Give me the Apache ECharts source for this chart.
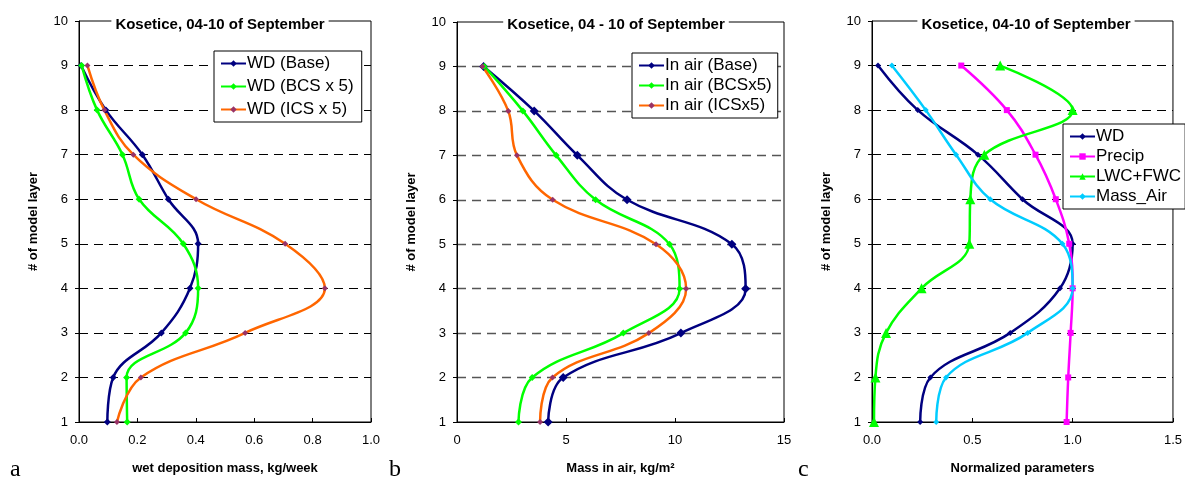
<!DOCTYPE html>
<html>
<head>
<meta charset="utf-8">
<script src="https://cdn.jsdelivr.net/npm/echarts@6/dist/echarts.min.js"></script>
<style>
  html, body { margin: 0; padding: 0; background: #fff; }
  #chart { width: 1185px; height: 480px; }
</style>
</head>
<body>
<div id="chart"></div>
<script>
// model layers, bottom to top
const layers = [1, 2, 3, 4, 5, 6, 7, 8, 9];

// panel a: wet deposition mass, kg/week
const wdBase = [0.097, 0.117, 0.282, 0.380, 0.408, 0.306, 0.217, 0.092, 0.007];
const wdBcs = [0.165, 0.163, 0.365, 0.408, 0.357, 0.206, 0.149, 0.062, 0.009];
const wdIcs = [0.130, 0.212, 0.569, 0.842, 0.706, 0.401, 0.186, 0.087, 0.029];

// panel b: mass in air, kg/m2
const airBase = [4.18, 4.87, 10.27, 13.24, 12.61, 7.80, 5.52, 3.54, 1.22];
const airBcs = [2.82, 3.45, 7.63, 10.21, 9.75, 6.36, 4.55, 3.02, 1.25];
const airIcs = [3.81, 4.38, 8.80, 10.51, 9.13, 4.39, 2.75, 2.35, 1.17];

// panel c: normalized parameters
const normWd = [0.240, 0.291, 0.689, 0.937, 1.000, 0.750, 0.528, 0.228, 0.030];
const normPrecip = [0.970, 0.978, 0.990, 1.000, 0.983, 0.916, 0.815, 0.672, 0.445];
const normLwc = [0.010, 0.017, 0.070, 0.247, 0.485, 0.490, 0.560, 1.000, 0.639];
const normAir = [0.320, 0.369, 0.776, 1.000, 0.949, 0.589, 0.419, 0.268, 0.099];

// axis ranges [min, max, step]
const xRangeA = [0, 1, 0.2];
const xRangeB = [0, 15, 5];
const xRangeC = [0, 1.5, 0.5];
const yRange = [1, 10, 1];

const FONT = 'Liberation Sans, Arial, sans-serif';
const NAVY = '#000080', GREEN = '#00FF00', ORANGE = '#FF6600', PLUM = '#993366';
const MAGENTA = '#FF00FF', CYAN = '#00CCFF';

const pairs = vals => vals.map((v, i) => [v, layers[i]]);

const chart = echarts.init(document.getElementById('chart'));

const grids = [
  {left: 79, top: 21, width: 292, height: 401},
  {left: 457, top: 22, width: 327, height: 400},
  {left: 872, top: 21, width: 302, height: 401}
].map(g => Object.assign(g, {show: true, borderColor: '#000', borderWidth: 1, backgroundColor: 'transparent'}));

const xNames = ['wet deposition mass, kg/week', 'Mass in air, kg/m²', 'Normalized parameters'];
const xRanges = [xRangeA, xRangeB, xRangeC];
const xAxes = xRanges.map((r, i) => ({
  type: 'value', gridIndex: i,
  min: r[0], max: r[1], interval: r[2],
  name: xNames[i], nameLocation: 'middle', nameGap: 40,
  nameTextStyle: {fontFamily: FONT, fontWeight: 'bold', fontSize: 13, color: '#000'},
  axisLine: {lineStyle: {color: '#000', width: 1}},
  axisTick: {show: true, inside: true, length: 4, lineStyle: {color: '#000'}},
  axisLabel: {
    margin: 12, fontFamily: FONT, fontSize: 13, color: '#000',
    formatter: v => i === 1 ? String(v) : v.toFixed(1)
  },
  splitLine: {show: false}
}));

const yAxes = [0, 1, 2].map(i => ({
  type: 'value', gridIndex: i,
  min: yRange[0], max: yRange[1], interval: yRange[2],
  name: '# of model layer', nameLocation: 'middle', nameGap: 39,
  nameTextStyle: {fontFamily: FONT, fontWeight: 'bold', fontSize: 13, color: '#000'},
  axisLine: {show: true, lineStyle: {color: '#000', width: 1}},
  axisTick: {show: true, inside: false, length: 4, lineStyle: {color: '#000'}},
  axisLabel: {margin: 11, fontFamily: FONT, fontSize: 13, color: '#000'},
  splitLine: {
    show: true, showMinLine: false, showMaxLine: false,
    lineStyle: i === 1
      ? {color: '#555', width: 1.4, type: [9, 6]}
      : {color: '#000', width: 1, type: [9, 6]}
  }
}));

function line(name, data, idx, color, markColor, symbol, size) {
  return {
    type: 'line', name: name, data: pairs(data),
    xAxisIndex: idx, yAxisIndex: idx,
    smooth: 0.4, symbol: symbol, symbolSize: size, showSymbol: true,
    lineStyle: {color: color, width: 2.5},
    itemStyle: {color: markColor},
    emphasis: {disabled: true},
    z: 3
  };
}

const series = [
  line('WD (Base)', wdBase, 0, NAVY, NAVY, 'diamond', 7),
  line('WD (BCS x 5)', wdBcs, 0, GREEN, GREEN, 'diamond', 7),
  line('WD (ICS x 5)', wdIcs, 0, ORANGE, PLUM, 'diamond', 6),
  line('In air (Base)', airBase, 1, NAVY, NAVY, 'diamond', 9),
  line('In air (BCSx5)', airBcs, 1, GREEN, GREEN, 'diamond', 7),
  line('In air (ICSx5)', airIcs, 1, ORANGE, PLUM, 'diamond', 6),
  line('WD', normWd, 2, NAVY, NAVY, 'diamond', 6),
  line('Precip', normPrecip, 2, MAGENTA, MAGENTA, 'rect', 6),
  line('LWC+FWC', normLwc, 2, GREEN, GREEN, 'triangle', 10),
  line('Mass_Air', normAir, 2, CYAN, CYAN, 'diamond', 6)
];

function legend(names, left, top, gap, pad) {
  return {
    data: names, orient: 'vertical', left: left, top: top,
    itemWidth: 25, itemHeight: 8, itemGap: gap,
    padding: pad,
    backgroundColor: '#fff', borderColor: '#000', borderWidth: 1,
    textStyle: {fontFamily: FONT, fontSize: 17, color: '#000', padding: [0, 0, 0, -4]},
    selectedMode: false
  };
}

const titleBase = {
  top: 17, textAlign: 'center', padding: [0, 4], backgroundColor: '#fff',
  textStyle: {fontFamily: FONT, fontWeight: 'bold', fontSize: 15, color: '#000'}
};

chart.setOption({
  animation: false,
  backgroundColor: '#fff',
  title: [
    Object.assign({text: 'Kosetice, 04-10 of September', left: 216}, titleBase),
    Object.assign({text: 'Kosetice, 04 - 10 of September', left: 612}, titleBase),
    Object.assign({text: 'Kosetice, 04-10 of September', left: 1022}, titleBase)
  ],
  legend: [
    legend(['WD (Base)', 'WD (BCS x 5)', 'WD (ICS x 5)'], 214, 51, 6, [4, 8, 4, 6]),
    legend(['In air (Base)', 'In air (BCSx5)', 'In air (ICSx5)'], 632, 53, 3, [4, 6, 4, 6]),
    legend(['WD', 'Precip', 'LWC+FWC', 'Mass_Air'], 1063, 124, 3, [4, 4, 4, 6])
  ],
  grid: grids,
  xAxis: xAxes,
  yAxis: yAxes,
  series: series,
  graphic: [
    {type: 'text', left: 10, top: 458, style: {text: 'a', font: '24px "Liberation Serif", serif', fill: '#000'}},
    {type: 'text', left: 389, top: 458, style: {text: 'b', font: '24px "Liberation Serif", serif', fill: '#000'}},
    {type: 'text', left: 798, top: 458, style: {text: 'c', font: '24px "Liberation Serif", serif', fill: '#000'}}
  ]
});
</script>
</body>
</html>
